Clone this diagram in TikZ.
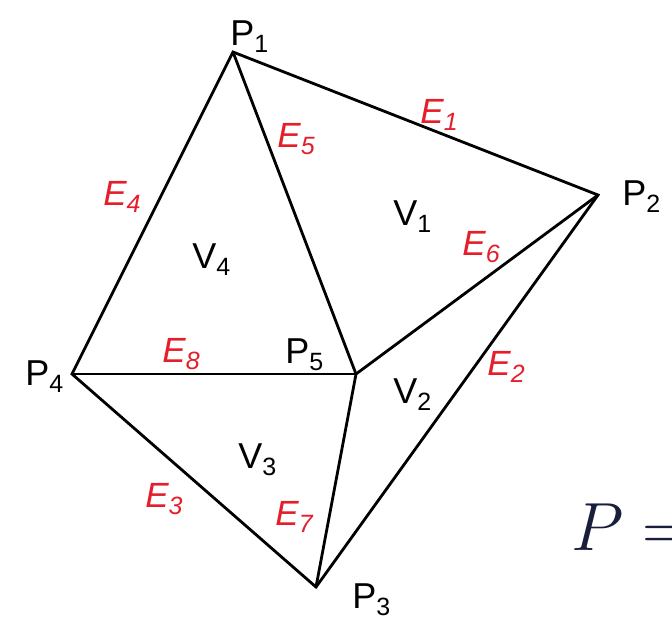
\documentclass[tikz,border=0pt]{standalone}
\usepackage{fontspec}
\setmainfont{Liberation Sans}
\usepackage{tikz}
\usetikzlibrary{positioning}
\definecolor{edgered}{RGB}{228, 30, 42}
\definecolor{inkblue}{RGB}{25, 30, 60}
% lowered subscript in the running font
\newcommand{\lowsub}[1]{\raisebox{-3.6pt}{\fontsize{12.5}{12.5}\selectfont #1}}
\newcommand{\vlab}[2]{#1\lowsub{#2}}
\newcommand{\elab}[1]{\itshape E\lowsub{#1}}

\begin{document}
\begin{tikzpicture}[x=0.5pt, y=-0.5pt,
    txt/.style={inner sep=0pt, anchor=base west, font=\fontsize{18}{18}\selectfont},
    elbl/.style={txt, text=edgered, font=\fontsize{17.5}{17.5}\selectfont},
    link/.style={line width=1.4pt, line join=miter}]
    \useasboundingbox (0,0) rectangle (672,618);

    % Vertices
    \coordinate (p1) at (233,52);
    \coordinate (p2) at (598,195);
    \coordinate (p3) at (316,587);
    \coordinate (p4) at (72,374);
    \coordinate (p5) at (356,374);

    % Outer polygon and inner edges
    \draw[link] (p1) -- (p2) -- (p3) -- (p4) -- cycle;
    \draw[link] (p1) -- (p5);
    \draw[link] (p2) -- (p5);
    \draw[link] (p3) -- (p5);
    \draw[link] (p4) -- (p5);

    % Vertex labels
    \node[txt] (lp1) at (230,45) {\vlab{P}{1}};
    \node[txt] (lp2) at (622,205) {\vlab{P}{2}};
    \node[txt] (lp3) at (352,608) {\vlab{P}{3}};
    \node[txt] (lp4) at (25,385) {\vlab{P}{4}};
    \node[txt] (lp5) at (285,363) {\vlab{P}{5}};

    % Region labels
    \node[txt] (lv1) at (393,225) {\vlab{V}{1}};
    \node[txt] (lv2) at (393,403) {\vlab{V}{2}};
    \node[txt] (lv3) at (238,468) {\vlab{V}{3}};
    \node[txt] (lv4) at (192,268) {\vlab{V}{4}};

    % Edge labels
    \node[elbl] (le1) at (420,123) {\elab{1}};
    \node[elbl] (le2) at (487,375) {\elab{2}};
    \node[elbl] (le3) at (145,507) {\elab{3}};
    \node[elbl] (le4) at (103,205) {\elab{4}};
    \node[elbl] (le5) at (277,147) {\elab{5}};
    \node[elbl] (le6) at (462,255) {\elab{6}};
    \node[elbl] (le7) at (275,525) {\elab{7}};
    \node[elbl] (le8) at (162,362) {\elab{8}};

    % Formula cut at the right edge
    \node[inner sep=0pt, anchor=base west, text=inkblue, scale=1.37] (peq) at (571,550)
        {\fontsize{24.88}{26}\selectfont $P=$};
\end{tikzpicture}
\end{document}
